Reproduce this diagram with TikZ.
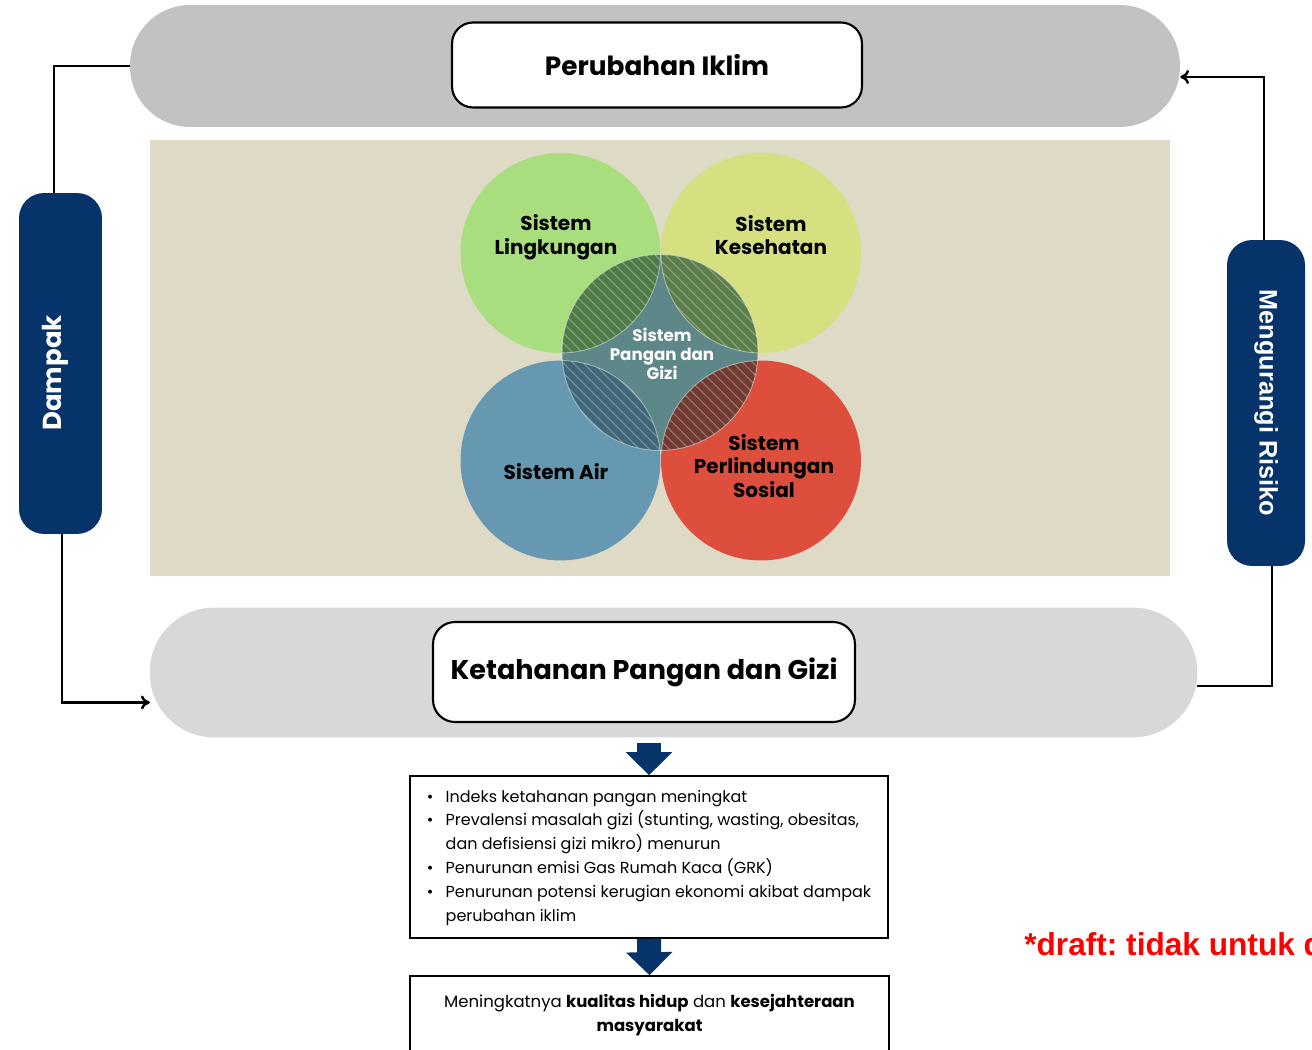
\documentclass[tikz,border=0pt]{standalone}
\usepackage{fontspec}
\setmainfont{Poppins}
\newfontfamily\arialfont{Liberation Sans}
\usetikzlibrary{arrows.meta}

\definecolor{navy}{HTML}{06336A}
\definecolor{bartop}{HTML}{C2C2C2}
\definecolor{barbot}{HTML}{D8D8D8}
\definecolor{beige}{HTML}{DEDAC6}
\definecolor{cling}{HTML}{A9DE7E}
\definecolor{ckes}{HTML}{D6E081}
\definecolor{cair}{HTML}{6699B1}
\definecolor{cperl}{HTML}{DD4F3C}
\definecolor{cpang}{HTML}{5E8789}
\definecolor{lensL}{HTML}{4E7B46}
\definecolor{lensK}{HTML}{5B7E4A}
\definecolor{lensA}{HTML}{3F6679}
\definecolor{lensP}{HTML}{723B31}

\begin{document}
\frenchspacing
\begin{tikzpicture}[x=0.02cm,y=-0.02cm,
	pill/.style={inner sep=0pt},
	titlebox/.style={draw, line width=1.2pt, fill=white, inner sep=0pt},
	sidebox/.style={fill=navy, text=white, rounded corners=0.5cm, inner sep=0pt},
	outbox/.style={draw, line width=0.9pt, inner sep=0pt},
	link/.style={line width=1.4pt},
	bigarrow/.style={navy, line width=0.48cm, -{Triangle[width=0.9cm,length=0.46cm]}},
	venn/.style={font=\bfseries\fontsize{11.4}{13.4}\selectfont, align=center},
	hatch/.style={white, opacity=.3, line width=0.6pt}]
	\useasboundingbox (0,0) rectangle (1312,1050);

	% top and bottom bars
	\node[pill, fill=bartop, rounded corners=1.2cm, minimum width=21cm, minimum height=2.44cm] (iklimbar) at (655,66) {};
	\node[titlebox, rounded corners=0.42cm, minimum width=8.2cm, minimum height=1.7cm,
		font=\bfseries\fontsize{15}{18}\selectfont] (iklim) at (657,65) {Perubahan Iklim};
	\node[pill, fill=barbot, draw=black!15, rounded corners=1.28cm, minimum width=20.94cm, minimum height=2.58cm] (pangbar) at (673.5,672.5) {};
	\node[titlebox, rounded corners=0.44cm, minimum width=8.44cm, minimum height=2cm,
		font=\bfseries\fontsize{15.4}{19}\selectfont] (pangan) at (644,672) {Ketahanan Pangan dan Gizi};

	% side boxes
	\node[sidebox, minimum width=1.66cm, minimum height=6.82cm] (dampak) at (60.5,363.5) {};
	\node[rotate=90, text=white, font=\bfseries\fontsize{14.8}{17}\selectfont] at (55,373) {Dampak};
	\node[sidebox, minimum width=1.56cm, minimum height=6.52cm] (risiko) at (1266,403) {};
	\node[rotate=-90, text=white, font=\arialfont\bfseries\fontsize{14.4}{16}\selectfont] at (risiko) {Mengurangi Risiko};

	% venn panel
	\fill[beige] (150,140) rectangle (1170,576);
	\coordinate (cL) at (560.5,253);
	\coordinate (cK) at (761,253);
	\coordinate (cA) at (560.5,460.5);
	\coordinate (cP) at (761,460.5);
	\coordinate (cS) at (660,352.5);
	\fill[cling] (cL) circle (2cm);
	\fill[ckes] (cK) circle (2cm);
	\fill[cair] (cA) circle (2cm);
	\fill[cperl] (cP) circle (2cm);
	\fill[cpang] (cS) circle (1.96cm);
	\foreach \ctr/\col in {cL/lensL, cK/lensK, cA/lensA, cP/lensP} {
		\begin{scope}
			\clip (cS) circle (1.96cm);
			\clip (\ctr) circle (2cm);
			\fill[\col] (cS) circle (1.96cm);
			\foreach \k in {100,110,...,520}
				\draw[hatch] (\k+240,240) -- (\k+460,460);
		\end{scope}
	}
	\begin{scope}
		\clip (cS) circle (1.96cm);
		\foreach \ctr in {cL,cK,cA,cP}
			\draw[white, opacity=.45, line width=0.5pt] (\ctr) circle (2cm);
	\end{scope}
	\draw[white, opacity=.45, line width=0.5pt] (cS) circle (1.96cm);

	\node[venn] (tling) at (556,237) {Sistem\\Lingkungan};
	\node[venn] (tkes) at (771,235) {Sistem\\Kesehatan};
	\node[venn] (tair) at (556,472) {Sistem Air};
	\node[venn] (tperl) at (764,466) {Sistem\\Perlindungan\\Sosial};
	\node[venn, text=white, font=\bfseries\fontsize{9.5}{10.8}\selectfont] (tpang) at (662,354) {Sistem\\Pangan dan\\Gizi};

	% outcome boxes
	\node[outbox, minimum width=9.56cm, minimum height=3.24cm] (hasil) at (649,857) {%
		\fontsize{9.1}{13.6}\selectfont
		\begin{tabular}{@{}c@{\hspace{7pt}}l@{}}
			\textbullet & Indeks ketahanan pangan meningkat\\
			\textbullet & Prevalensi masalah gizi (stunting, wasting, obesitas,\\
			 & dan defisiensi gizi mikro) menurun\\
			\textbullet & Penurunan emisi Gas Rumah Kaca (GRK)\\
			\textbullet & Penurunan potensi kerugian ekonomi akibat dampak\\
			 & perubahan iklim
		\end{tabular}};
	\node[outbox, minimum width=9.58cm, minimum height=1.56cm, align=center,
		font=\fontsize{9.4}{13.6}\selectfont] (akhir) at (649.5,1015) {%
		Meningkatnya \textbf{kualitas hidup} dan \textbf{kesejahteraan}\\\textbf{masyarakat}};

	% flow arrows
	\draw[bigarrow] ([yshift=-3pt]pangbar.south -| hasil.north) -- (hasil.north);
	\draw[bigarrow] (hasil.south) -- (akhir.north);

	% feedback loop
	\draw[link] (iklimbar.west) -| ([xshift=-0.13cm]dampak.north);
	\draw[link, -{To[length=5pt,width=8pt]}] ([xshift=0.03cm]dampak.south) |- ([yshift=-0.6cm]pangbar.west);
	\draw[link] ([yshift=-0.27cm]pangbar.east) -| ([xshift=0.12cm]risiko.south);
	\draw[link, -{To[length=5pt,width=8pt]}] ([xshift=-0.04cm]risiko.north) |- ([yshift=-0.22cm]iklimbar.east);

	\node[anchor=base west, inner sep=0pt, text=red, font=\arialfont\bfseries\fontsize{18}{20}\selectfont] (draft) at (1024,955) {*draft: tidak untuk d};
\end{tikzpicture}
\end{document}
